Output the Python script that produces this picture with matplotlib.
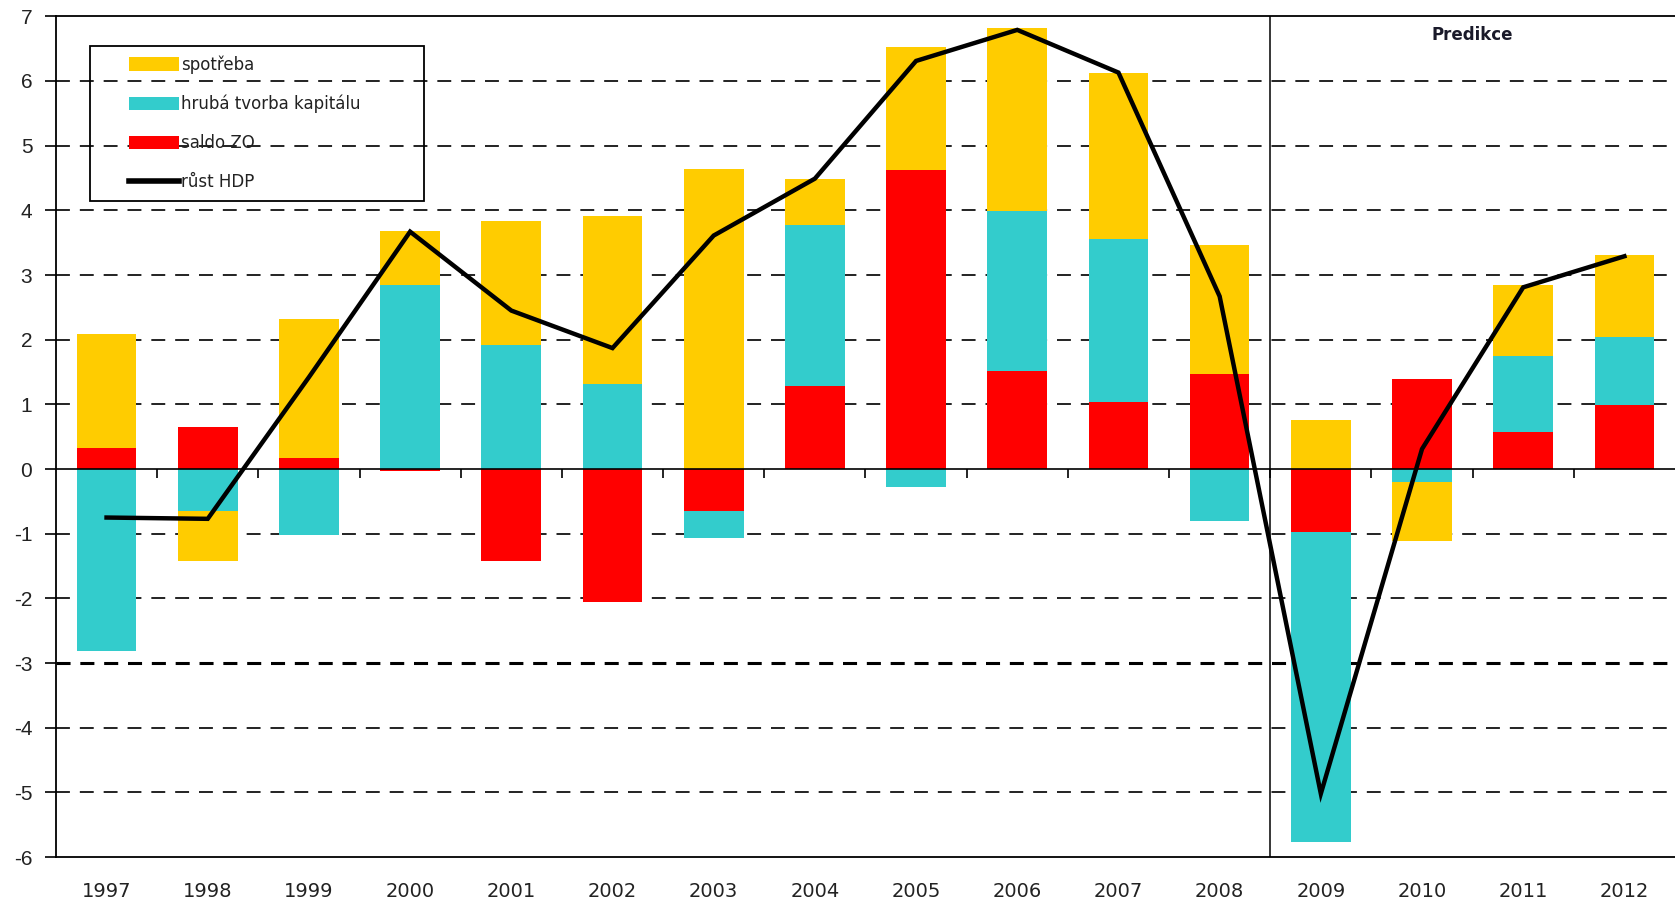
import numpy as np
import matplotlib
matplotlib.use("Agg")
import matplotlib.pyplot as plt
from matplotlib.patches import Rectangle, Patch
from matplotlib.lines import Line2D

years = ["1997", "1998", "1999", "2000", "2001", "2002", "2003", "2004",
         "2005", "2006", "2007", "2008", "2009", "2010", "2011", "2012"]
saldo_zo = [0.33, 0.65, 0.17, -0.03, -1.42, -2.05, -0.65, 1.29,
            4.62, 1.51, 1.04, 1.47, -0.97, 1.39, 0.58, 0.99]
kapital = [-2.81, -0.65, -1.02, 2.85, 1.92, 1.32, -0.42, 2.48,
           -0.28, 2.48, 2.52, -0.81, -4.80, -0.20, 1.16, 1.05]
spotreba = [1.76, -0.77, 2.15, 0.83, 1.92, 2.60, 4.64, 0.72,
            1.90, 2.83, 2.57, 1.99, 0.76, -0.92, 1.11, 1.27]
hdp = [-0.75, -0.77, 1.42, 3.67, 2.45, 1.87, 3.61, 4.49,
       6.31, 6.79, 6.13, 2.67, -5.02, 0.31, 2.81, 3.29]
yticks = [-6, -5, -4, -3, -2, -1, 0, 1, 2, 3, 4, 5, 6, 7]
labels = ["spotřeba", "hrubá tvorba kapitálu", "saldo ZO", "růst HDP"]
predikce_label = "Predikce"
forecast_start = 12  # index of first forecast year

YELLOW = "#FFCC00"
TEAL = "#33CCCC"
RED = "#FF0000"

fig = plt.figure(figsize=(16.75, 9.06), dpi=100)
ax = fig.add_axes([0.0334, 0.054, 0.9666, 0.928])

x = np.arange(len(years))
width = 0.59

series = [(saldo_zo, RED), (kapital, TEAL), (spotreba, YELLOW)]
pos_bottom = np.zeros(len(years))
neg_bottom = np.zeros(len(years))
for vals, col in series:
    v = np.array(vals)
    bottom = np.where(v >= 0, pos_bottom, neg_bottom)
    ax.bar(x, v, width=width, bottom=bottom, color=col, edgecolor="none", zorder=2)
    pos_bottom = pos_bottom + np.where(v >= 0, v, 0)
    neg_bottom = neg_bottom + np.where(v < 0, v, 0)

# gridlines
for yv in yticks:
    if yv in (0, -6, 7):
        continue
    if yv == -3:
        ax.axhline(yv, color="black", lw=2.2, linestyle=(0, (4.6, 3.2)), zorder=1)
    else:
        ax.axhline(yv, color="#111111", lw=1.3, linestyle=(0, (7.7, 5.5)), zorder=1)

# zero axis line with category tick marks
ax.axhline(0, color="black", lw=1.2, zorder=3)
bounds = x[:-1] + 0.5
ax.vlines(bounds, -0.14, 0, color="black", lw=1.2, zorder=3)

# forecast separator
ax.axvline(forecast_start - 0.5, color="black", lw=1.1, zorder=3)
ax.text((forecast_start + len(years) - 1) / 2, 6.71, predikce_label,
        ha="center", va="center", fontsize=12, fontweight="bold",
        color="#1a1a2a", zorder=5)

# GDP line
ax.plot(x, hdp, color="black", lw=3.2, zorder=4, solid_joinstyle="miter")

ax.set_xlim(-0.5, len(years) - 0.5)
ax.set_ylim(-6, 7)
ax.set_yticks(yticks)
ax.set_yticklabels([str(t) for t in yticks],
                   fontfamily=["Liberation Sans Narrow", "Liberation Sans", "DejaVu Sans"],
                   fontsize=15, color="#222222")
ax.set_xticks(x)
ax.set_xticklabels(years, fontsize=14, color="#222222")
ax.tick_params(axis="x", length=0, pad=18)
ax.tick_params(axis="y", length=8, width=1.2, pad=9, direction="out")

for side in ["left", "top", "bottom"]:
    ax.spines[side].set_linewidth(1.3)
    ax.spines[side].set_color("black")
ax.spines["right"].set_visible(False)

# legend
handles = [Patch(facecolor=YELLOW, edgecolor="none"),
           Patch(facecolor=TEAL, edgecolor="none"),
           Patch(facecolor=RED, edgecolor="none"),
           Line2D([], [], color="black", lw=4)]
leg = ax.legend(handles, labels, loc="upper left", bbox_to_anchor=(0.0451, 0.9535),
                frameon=False, borderpad=0, borderaxespad=0, fontsize=12,
                handlelength=3.0, handleheight=0.85, handletextpad=0.15,
                labelspacing=1.25)
for t in leg.get_texts():
    t.set_color("#222222")
ax.add_patch(Rectangle((0.021, 0.78), 0.2063, 0.1843, transform=ax.transAxes,
                       fill=False, edgecolor="black", lw=1.3, zorder=6))

fig.savefig("out.png", dpi=100)
